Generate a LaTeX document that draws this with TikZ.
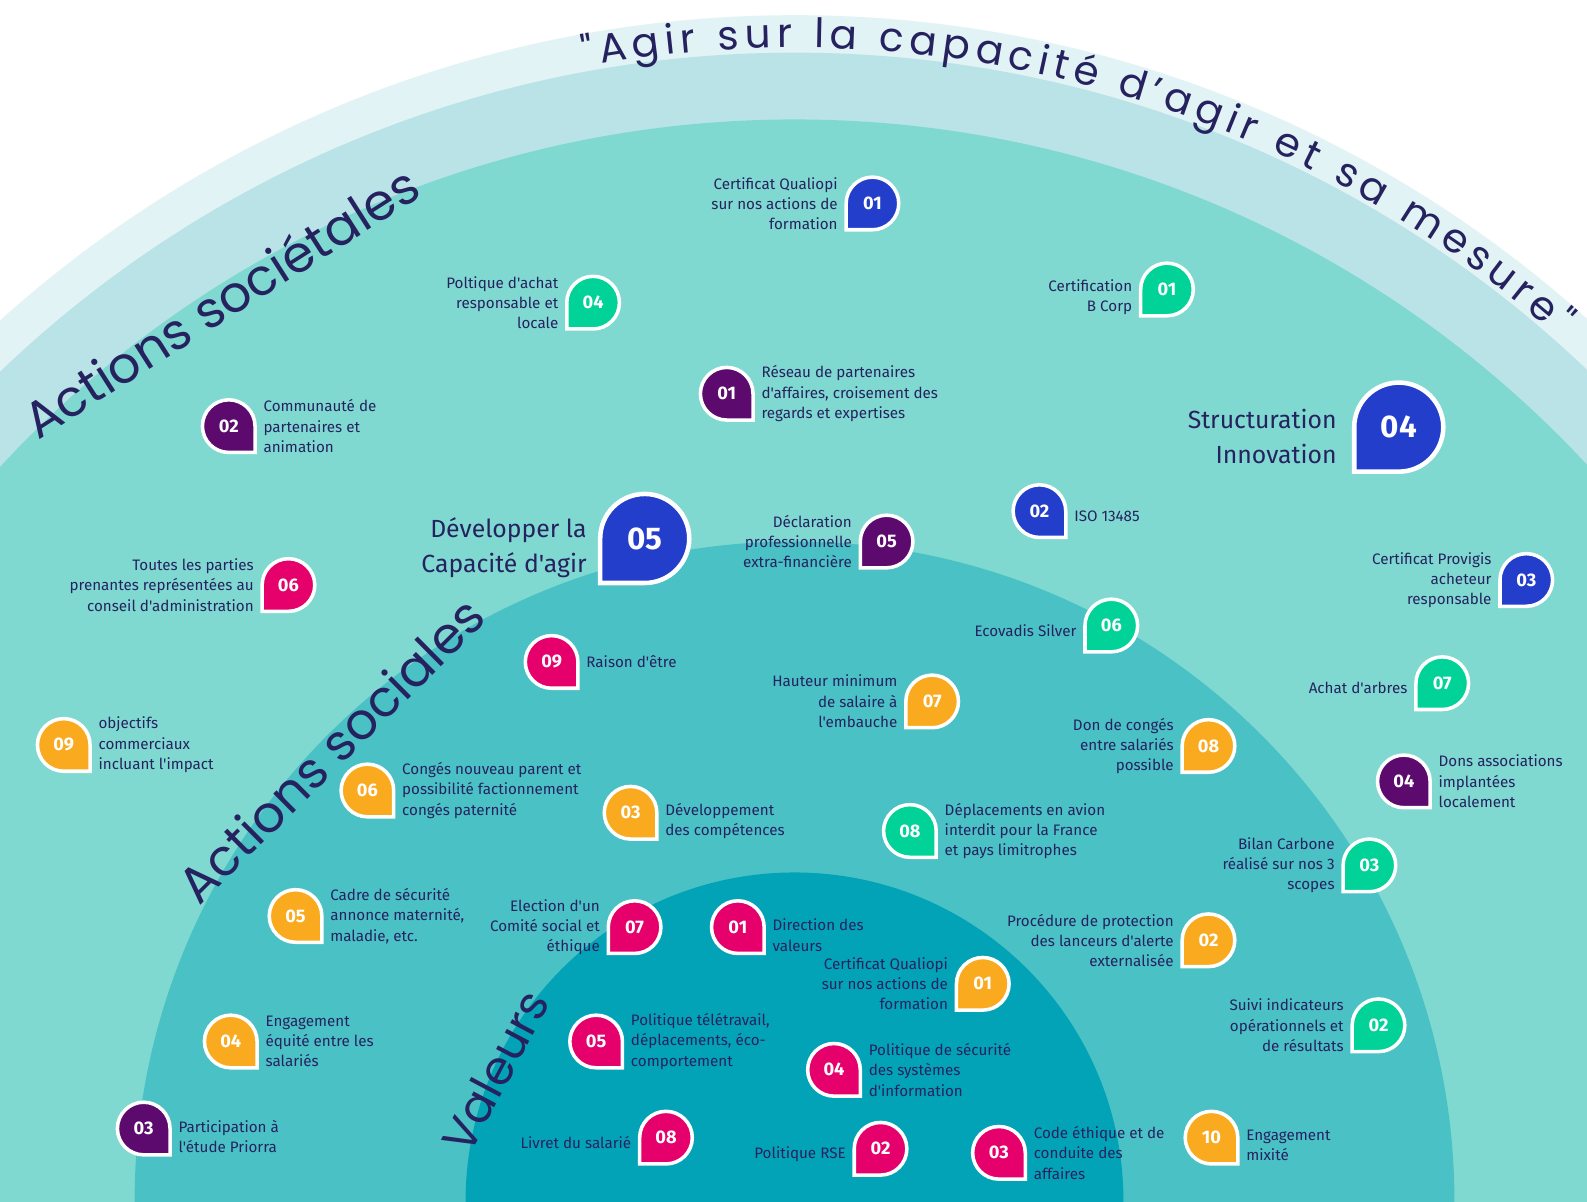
\documentclass[tikz,border=0pt]{standalone}
\usepackage{fontspec}
\newfontfamily\lblfont{Fira Sans}
\newfontfamily\headfont{Poppins}
\usetikzlibrary{positioning, calc, decorations.text}

\definecolor{Navy}{RGB}{38, 34, 96}
\definecolor{Pale}{RGB}{226, 243, 245}
\definecolor{LightBlue}{RGB}{186, 227, 232}
\definecolor{Teal}{RGB}{127, 217, 208}
\definecolor{Mid}{RGB}{74, 193, 197}
\definecolor{Inner}{RGB}{3, 163, 183}
\definecolor{Blue}{RGB}{36, 62, 204}
\definecolor{Green}{RGB}{0, 210, 152}
\definecolor{Purple}{RGB}{92, 10, 110}
\definecolor{Pink}{RGB}{229, 0, 108}
\definecolor{Orange}{RGB}{250, 170, 30}

% marker, square corner bottom left (label on the left)
\newcommand{\pinL}[4]{%
  \filldraw[pin, fill=#3] (#2) ++(180:26) arc[start angle=180, end angle=450, radius=26] -- ++(-26,0) -- cycle;
  \node[num] (#1) at (#2) {#4}}
% marker, square corner bottom right (label on the right)
\newcommand{\pinR}[4]{%
  \filldraw[pin, fill=#3] (#2) ++(90:26) arc[start angle=90, end angle=360, radius=26] -- ++(0,26) -- cycle;
  \node[num] (#1) at (#2) {#4}}
% big marker
\newcommand{\bigpin}[4]{%
  \filldraw[pin, line width=4.5pt, fill=#3] (#2) ++(180:44) arc[start angle=180, end angle=450, radius=44] -- ++(-44,0) -- cycle;
  \node[bignum] (#1) at (#2) {#4}}

\begin{document}
\begin{tikzpicture}[
        x=1pt, y=-1pt,
        pin/.style={draw=white, line width=3.5pt},
        num/.style={circle, minimum size=52pt, inner sep=0pt, text=white, font=\lblfont\bfseries\fontsize{18}{18}\selectfont},
        bignum/.style={num, minimum size=88pt, font=\lblfont\bfseries\fontsize{31}{31}\selectfont},
        lbl/.style={inner sep=0pt, text=Navy, font=\lblfont\fontsize{15}{20}\selectfont},
        tl/.style={lbl, align=right},
        tr/.style={lbl, align=left},
        one/.style={yshift=-5pt},
        two/.style={yshift=-8pt},
        big/.style={lbl, align=right, font=\lblfont\fontsize{24.5}{35}\selectfont},
        head/.style={anchor=base, inner sep=0pt, text=Navy, font=\headfont\fontsize{50}{50}\selectfont}
    ]
        \clip (0,0) rectangle (1568,1187);
        \fill[white] (0,0) rectangle (1568,1187);

        % bands
        \coordinate (c) at (785,1187);
        \fill[Pale] (c) circle[radius=1172];
        \fill[LightBlue] (c) circle[radius=1135];
        \fill[Teal] (c) circle[radius=1069];
        \fill[Mid] (c) circle[radius=652];
        \fill[Inner] (c) circle[radius=325];

        % title on the arc
        \path[decorate, decoration={text along path, text align=fit to path, text color=Navy,
            text={|\headfont\fontsize{40}{40}\selectfont|"Agir sur la capacité d’agir et sa mesure"}}]
            (c) ++(-100.5:1140) arc[start angle=-100.5, end angle=-48.6, radius=1140];

        \node[head, rotate=32.5] (soc) at (228,314) {Actions sociétales};
        \node[head, rotate=44.8] (socl) at (340,754) {Actions sociales};
        \node[head, rotate=62, font=\headfont\fontsize{46}{46}\selectfont] (val) at (504,1066) {Valeurs};

        % Actions sociétales
        \pinL{blue01}{862,201}{Blue}{01};
        \node[tl, left=8pt of blue01] (tblue01) {Certificat Qualiopi\\sur nos actions de\\formation};
        \pinL{green04}{586,299}{Green}{04};
        \node[tl, left=8pt of green04] (tgreen04) {Poltique d'achat\\responsable et\\locale};
        \pinL{green01}{1153,286}{Green}{01};
        \node[tl, two, left=8pt of green01] (tgreen01) {Certification\\B Corp};
        \pinR{purple01}{718,389}{Purple}{01};
        \node[tr, right=8pt of purple01] (tpurple01) {Réseau de partenaires\\d'affaires, croisement des\\regards et expertises};
        \pinR{purple02}{226,421}{Purple}{02};
        \node[tr, right=8pt of purple02] (tpurple02) {Communauté de\\partenaires et\\animation};
        \bigpin{blue04}{1382,422}{Blue}{04};
        \node[big, yshift=-9pt, left=17pt of blue04] (tblue04) {Structuration\\Innovation};
        \bigpin{blue05}{637,532}{Blue}{05};
        \node[big, yshift=-9pt, left=13pt of blue05] (tblue05) {Développer la\\Capacité d'agir};
        \pinL{purple05}{876,535}{Purple}{05};
        \node[tl, left=8pt of purple05] (tpurple05) {Déclaration\\professionnelle\\extra-financière};
        \pinR{blue02}{1027,505}{Blue}{02};
        \node[tr, one, right=8pt of blue02] (tblue02) {ISO 13485};
        \pinL{pink06}{285,578}{Pink}{06};
        \node[tl, left=8pt of pink06] (tpink06) {Toutes les parties\\prenantes représentées au\\conseil d'administration};
        \pinL{blue03}{1508,573}{Blue}{03};
        \node[tl, left=8pt of blue03] (tblue03) {Certificat Provigis\\acheteur\\responsable};
        \pinL{green06}{1098,618}{Green}{06};
        \node[tl, one, left=8pt of green06] (tgreen06) {Ecovadis Silver};
        \pinR{pink09}{545,654}{Pink}{09};
        \node[tr, right=8pt of pink09] (tpink09) {Raison d'être};
        \pinL{green07}{1425,675}{Green}{07};
        \node[tl, one, left=8pt of green07] (tgreen07) {Achat d'arbres};
        \pinR{orange09}{63,736}{Orange}{09};
        \node[tr, right=8pt of orange09] (torange09) {objectifs\\commerciaux\\incluant l'impact};
        \pinR{purple04}{1387,772}{Purple}{04};
        \node[tr, right=8pt of purple04] (tpurple04) {Dons associations\\implantées\\localement};
        \pinL{green03}{1353,855}{Green}{03};
        \node[tl, left=8pt of green03] (tgreen03) {Bilan Carbone\\réalisé sur nos 3\\scopes};
        \pinR{purple03}{142,1115}{Purple}{03};
        \node[tr, two, right=8pt of purple03] (tpurple03) {Participation à\\l'étude Priorra};
        \pinL{green02}{1362,1013}{Green}{02};
        \node[tl, left=8pt of green02] (tgreen02) {Suivi indicateurs\\opérationnels et\\de résultats};

        % Actions sociales
        \pinL{orange07}{921,693}{Orange}{07};
        \node[tl, left=8pt of orange07] (torange07) {Hauteur minimum\\de salaire à\\l'embauche};
        \pinL{orange08}{1194,737}{Orange}{08};
        \node[tl, left=8pt of orange08] (torange08) {Don de congés\\entre salariés\\possible};
        \pinR{orange06}{363,781}{Orange}{06};
        \node[tr, right=8pt of orange06] (torange06) {Congés nouveau parent et\\possibilité factionnement\\congés paternité};
        \pinR{orange03}{623,803}{Orange}{03};
        \node[tr, two, right=8pt of orange03] (torange03) {Développement\\des compétences};
        \pinR{green08}{899,821}{Green}{08};
        \node[tr, right=8pt of green08] (tgreen08) {Déplacements en avion\\interdit pour la France\\et pays limitrophes};
        \pinR{orange05}{292,905}{Orange}{05};
        \node[tr, right=8pt of orange05] (torange05) {Cadre de sécurité\\annonce maternité,\\maladie, etc.};
        \pinL{pink07}{627,916}{Pink}{07};
        \node[tl, left=8pt of pink07] (tpink07) {Election d'un\\Comité social et\\éthique};
        \pinL{orange02}{1194,929}{Orange}{02};
        \node[tl, left=8pt of orange02] (torange02) {Procédure de protection\\des lanceurs d'alerte\\externalisée};
        \pinR{orange04}{228,1029}{Orange}{04};
        \node[tr, right=8pt of orange04] (torange04) {Engagement\\équité entre les\\salariés};
        \pinR{orange10}{1197,1124}{Orange}{10};
        \node[tr, two, right=8pt of orange10] (torange10) {Engagement\\mixité};

        % Valeurs
        \pinR{pink01}{729,916}{Pink}{01};
        \node[tr, two, right=8pt of pink01] (tpink01) {Direction des\\valeurs};
        \pinL{orange01}{971,972}{Orange}{01};
        \node[tl, left=8pt of orange01] (torange01) {Certificat Qualiopi\\sur nos actions de\\formation};
        \pinR{pink05}{589,1029}{Pink}{05};
        \node[tr, right=8pt of pink05] (tpink05) {Politique télétravail,\\déplacements, éco-\\comportement};
        \pinR{pink04}{824,1057}{Pink}{04};
        \node[tr, right=8pt of pink04] (tpink04) {Politique de sécurité\\des systèmes\\d'information};
        \pinL{pink08}{658,1124}{Pink}{08};
        \node[tl, one, left=8pt of pink08] (tpink08) {Livret du salarié};
        \pinL{pink02}{870,1135}{Pink}{02};
        \node[tl, one, left=8pt of pink02] (tpink02) {Politique RSE};
        \pinR{pink03}{987,1139}{Pink}{03};
        \node[tr, right=8pt of pink03] (tpink03) {Code éthique et de\\conduite des\\affaires};
\end{tikzpicture}
\end{document}
